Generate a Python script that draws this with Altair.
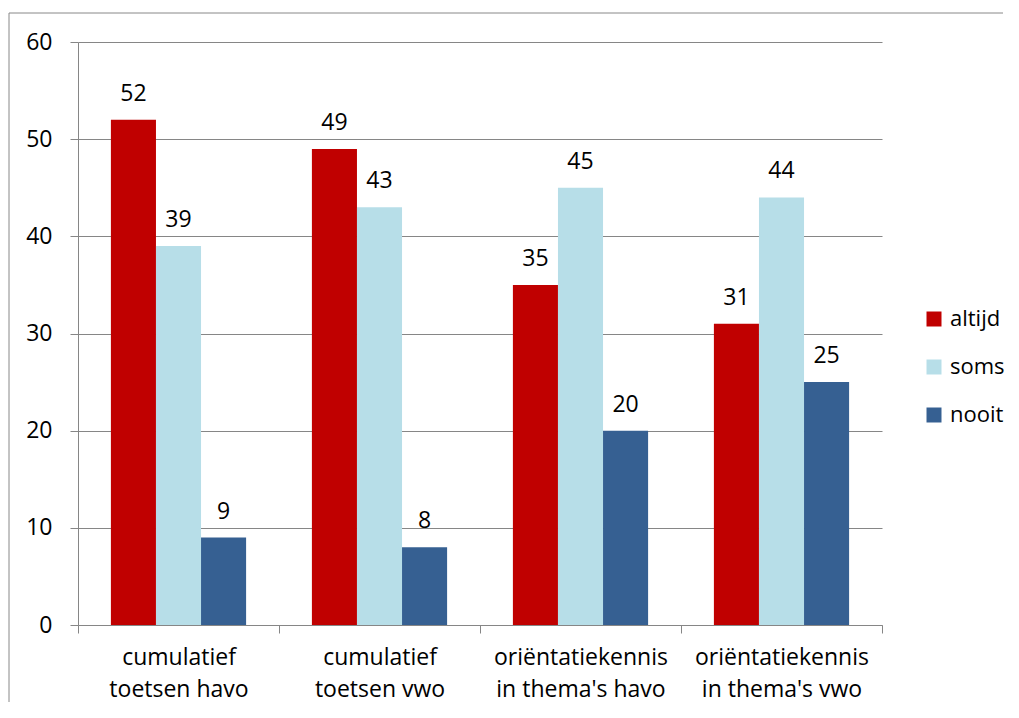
import altair as alt
import pandas as pd

categories = [
    "cumulatief\ntoetsen havo",
    "cumulatief\ntoetsen vwo",
    "oriëntatiekennis\nin thema's havo",
    "oriëntatiekennis\nin thema's vwo",
]
series = ["altijd", "soms", "nooit"]
altijd = [52, 49, 35, 31]
soms = [39, 43, 45, 44]
nooit = [9, 8, 20, 25]
colors = ["#C00000", "#B7DEE8", "#366092"]

rows = []
for name, vals in zip(series, [altijd, soms, nooit]):
    for c, v in zip(categories, vals):
        rows.append({"cat": c, "series": name, "value": v})
df = pd.DataFrame(rows)

FONT = "Open Sans"
FS = 23
GRID = "#868686"

x = alt.X(
    "cat:N",
    sort=categories,
    scale=alt.Scale(paddingInner=0, paddingOuter=0),
    axis=alt.Axis(
        title=None,
        labelAngle=0,
        tickBand="extent",
        labelExpr="split(datum.label, '\\n')",
        labelFontSize=FS,
        labelColor="#000000",
        labelFont=FONT,
        labelLineHeight=32,
        labelPadding=13,
        tickSize=8,
        tickColor=GRID,
        domainColor=GRID,
        labelBaseline="top",
    ),
)
xo = alt.XOffset(
    "series:N",
    sort=series,
    scale=alt.Scale(paddingInner=0, paddingOuter=0.73),
)
y = alt.Y(
    "value:Q",
    scale=alt.Scale(domain=[0, 60]),
    axis=alt.Axis(
        title=None,
        values=[0, 10, 20, 30, 40, 50, 60],
        labelFontSize=FS,
        labelFont=FONT,
        labelColor="#000000",
        labelPadding=18,
        tickSize=8,
        tickColor=GRID,
        domainColor=GRID,
        gridColor=GRID,
        grid=True,
    ),
)

bars = alt.Chart(df).mark_bar().encode(
    x=x,
    xOffset=xo,
    y=y,
    color=alt.Color(
        "series:N",
        sort=series,
        scale=alt.Scale(domain=series, range=colors),
        legend=alt.Legend(
            title=None,
            orient="none",
            legendX=845,
            legendY=266,
            symbolType="square",
            symbolSize=225,
            symbolStrokeWidth=0,
            labelFontSize=22,
            labelFont=FONT,
            labelColor="#000000",
            labelOffset=5,
            rowPadding=26,
            padding=0,
        ),
    ),
)

labels = alt.Chart(df).mark_text(
    fontSize=FS, font=FONT, color="#000000", baseline="alphabetic", dy=-19
).encode(x=x, xOffset=xo, y=y, text="value:Q")

frame_data = alt.Data(values=[{"k": 1}])
top_line = alt.Chart(frame_data).mark_rule(color="#888888", strokeWidth=1).encode(
    x=alt.value(-69), x2=alt.value(925), y=alt.value(-29)
)
left_line = alt.Chart(frame_data).mark_rule(color="#888888", strokeWidth=1).encode(
    x=alt.value(-69), y=alt.value(-29), y2=alt.value(660)
)

chart = (
    alt.layer(bars, labels, top_line, left_line)
    .properties(width=804, height=583, padding={"left": 0, "top": 4, "right": 0, "bottom": 0})
    .configure_view(stroke=None)
)

chart.save("out.html", embed_options={"renderer": "svg", "actions": False})
